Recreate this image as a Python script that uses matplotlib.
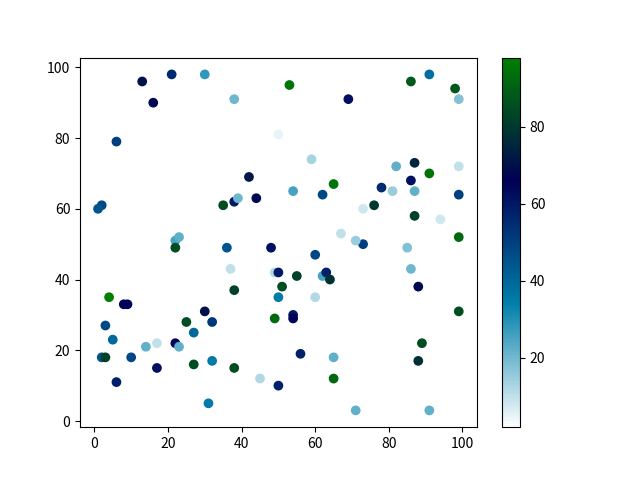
import numpy as np
import matplotlib.pyplot as plt

plt.rcParams['font.family'] = ['Noto Sans CJK SC', 'DejaVu Sans']

x = [13, 21, 30, 16, 38, 50, 6, 42, 2, 1,
     35, 38, 39, 44, 22, 23, 22, 36, 48, 37,
     49, 50, 51, 50, 38, 4, 8, 9, 49, 3,
     30, 25, 32, 27, 5, 17, 14, 22, 23, 2,
     3, 10, 17, 27, 32, 38, 6, 45, 50, 32,
     31, 60, 73, 71, 85, 99, 86, 55, 62, 63,
     64, 88, 60, 54, 54, 99, 89, 88, 56, 65,
     65, 71, 91, 53, 69, 86, 91, 98, 99, 59,
     82, 87, 99, 91, 86, 65, 78, 54, 62, 81,
     87, 99, 76, 73, 87, 94, 67]
y = [96, 98, 98, 90, 91, 81, 79, 69, 61, 60,
     61, 62, 63, 63, 51, 52, 49, 49, 49, 43,
     42, 42, 38, 35, 37, 35, 33, 33, 29, 27,
     31, 28, 28, 25, 23, 22, 21, 22, 21, 18,
     18, 18, 15, 16, 17, 15, 11, 12, 10, 8,
     5, 47, 50, 51, 49, 52, 43, 41, 41, 42,
     40, 38, 35, 30, 29, 31, 22, 17, 19, 18,
     12, 3, 3, 95, 91, 96, 98, 94, 91, 74,
     72, 73, 72, 70, 68, 67, 66, 65, 64, 65,
     65, 64, 61, 60, 58, 57, 53]
c = [70, 55, 28, 68, 20, 5, 50, 72, 48, 45,
     85, 60, 20, 68, 25, 22, 85, 45, 62, 10,
     12, 60, 85, 35, 82, 98, 65, 65, 92, 48,
     70, 85, 52, 40, 40, 10, 22, 65, 22, 45,
     82, 48, 62, 85, 35, 85, 58, 12, 58, 2,
     35, 48, 50, 15, 18, 92, 20, 82, 25, 58,
     78, 68, 12, 60, 65, 85, 85, 78, 58, 22,
     92, 22, 22, 95, 62, 88, 38, 88, 18, 13,
     22, 75, 10, 95, 62, 95, 55, 25, 48, 15,
     22, 50, 80, 8, 82, 8, 10]

fig, ax = plt.subplots(figsize=(6.4, 4.8), dpi=100)
sc = ax.scatter(x, y, c=c, cmap='ocean_r')
fig.colorbar(sc)
plt.savefig('out.png')
